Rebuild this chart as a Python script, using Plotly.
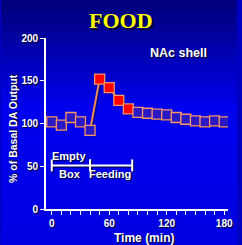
import plotly.graph_objects as go

# ---- data ----
time_min = [0, 10, 20, 30, 40, 50, 60, 70, 80, 90, 100, 110, 120, 130, 140, 150, 160, 170, 180]
da_output = [102, 98, 107, 102, 92, 152, 142, 127, 117, 113, 112, 111, 110, 107, 105, 103, 102, 103, 102]
feeding_flag = [0, 0, 0, 0, 0, 1, 1, 1, 1, 0, 0, 0, 0, 0, 0, 0, 0, 0, 0]

phase_names = ["Empty", "Feeding"]
phase_start = [0, 40]
phase_end = [40, 84]
phase_level = 51

x_tickvals = list(range(0, 181, 10))
x_ticktext = [str(v) if v % 60 == 0 else "" for v in x_tickvals]
y_tickvals = [0, 50, 100, 150, 200]

W, H = 242, 245
ML, MR, MT, MB = 46, 9, 38, 36

fig = go.Figure()

# marker / line shadow
fig.add_trace(go.Scatter(
    x=[t + 1.4 for t in time_min], y=[v - 1.8 for v in da_output],
    mode="lines+markers",
    line=dict(color="rgba(0,0,40,0.55)", width=2),
    marker=dict(symbol="square", size=9, color="rgba(0,0,40,0.55)", line=dict(width=0)),
    hoverinfo="skip", showlegend=False))

fig.add_trace(go.Scatter(
    x=time_min, y=da_output, mode="lines+markers",
    line=dict(color="#f08a5d", width=2),
    marker=dict(symbol="square", size=10,
                color=["#ff0000" if f else "#2a18c4" for f in feeding_flag],
                line=dict(color="#f79468", width=1.3)),
    showlegend=False))

shapes = []
# gradient background
n = 40
def grad(t):
    # t=0 top, t=1 bottom
    if t < 0.45:
        b = 120 + (240 - 120) * (t / 0.45)
    else:
        b = 240 - 15 * ((t - 0.45) / 0.55)
    return f"rgb(0,0,{int(b)})"
px_w = W - ML - MR
px_h = H - MT - MB
for i in range(n):
    y_top = i * H / n
    y_bot = (i + 1) * H / n + 0.5
    shapes.append(dict(type="rect", xref="paper", yref="paper", layer="below",
                       x0=-ML / px_w, x1=1 + MR / px_w,
                       y0=1 - (y_bot - MT) / px_h, y1=1 - (y_top - MT) / px_h,
                       fillcolor=grad((i + 0.5) / n), line=dict(width=0)))

# phase bars
annotations = []
for s, e in zip(phase_start, phase_end):
    for dx, dy, col in [(1.2, -1.5, "rgba(0,0,30,0.7)"), (0, 0, "white")]:
        shapes.append(dict(type="line", xref="x", yref="y", x0=s + dx, x1=e + dx,
                           y0=phase_level + dy, y1=phase_level + dy, line=dict(color=col, width=2)))
        for xe in (s, e):
            shapes.append(dict(type="line", xref="x", yref="y", x0=xe + dx, x1=xe + dx,
                               y0=phase_level - 7 + dy, y1=phase_level + 7 + dy,
                               line=dict(color=col, width=2)))

lab_font = dict(family="Arial, Liberation Sans", size=11, color="white",
                weight="bold", shadow="1px 1px 1px #000020")
annotations.append(dict(x=19, y=62, xref="x", yref="y", text="Empty",
                        showarrow=False, font=lab_font, xanchor="center", yanchor="middle"))
annotations.append(dict(x=19, y=41, xref="x", yref="y", text="Box",
                        showarrow=False, font=lab_font, xanchor="center", yanchor="middle"))
annotations.append(dict(x=61, y=41, xref="x", yref="y", text="Feeding",
                        showarrow=False, font=lab_font, xanchor="center", yanchor="middle"))

pix_annots = []
pix_annots.append(dict(x=123, y=20, text="FOOD", showarrow=False,
                       font=dict(family="Liberation Serif, Times New Roman", size=22,
                                 color="#ffff00", weight="bold", shadow="2px 2px 1px #000030")))
pix_annots.append(dict(x=182, y=53, text="NAc shell", showarrow=False,
                       font=dict(family="Arial, Liberation Sans", size=12.5, color="white",
                                 weight="bold", shadow="1px 1px 1px #000020")))
pix_annots.append(dict(x=147, y=238, text="Time (min)", showarrow=False,
                       font=dict(family="Arial, Liberation Sans", size=12, color="white",
                                 weight="bold", shadow="1px 1px 1px #000020")))
pix_annots.append(dict(x=12, y=128, text="% of Basal DA Output", showarrow=False, textangle=-90,
                       font=dict(family="Arial, Liberation Sans", size=10.5, color="white",
                                 weight="bold", shadow="1px 1px 1px #000020")))

# convert pixel-positioned annotations to paper coords
for a in pix_annots:
    a["xref"] = "paper"
    a["yref"] = "paper"
    a["x"] = (a["x"] - ML) / px_w
    a["y"] = 1 - (a["y"] - MT) / px_h
    a["xanchor"] = "center"
    a["yanchor"] = "middle"
annotations += pix_annots

tick_font = dict(family="Arial, Liberation Sans", size=10, color="white",
                 weight="bold", shadow="1px 1px 1px #000020")

fig.update_layout(
    width=W, height=H,
    margin=dict(l=ML, r=MR, t=MT, b=MB),
    paper_bgcolor="#0000c0", plot_bgcolor="rgba(0,0,0,0)",
    shapes=shapes, annotations=annotations,
    xaxis=dict(range=[-6, 184], tickvals=x_tickvals, ticktext=x_ticktext,
               ticks="outside", ticklen=4, tickwidth=1.2, tickcolor="white",
               showline=True, linecolor="white", linewidth=1.8,
               showgrid=False, zeroline=False, tickfont=tick_font, fixedrange=True),
    yaxis=dict(range=[0, 200], tickvals=y_tickvals,
               ticks="outside", ticklen=4, tickwidth=1.2, tickcolor="white",
               showline=True, linecolor="white", linewidth=1.8,
               showgrid=False, zeroline=False, tickfont=tick_font, fixedrange=True),
)

fig.write_html("out.html", config={"displayModeBar": False},
               post_script="document.body.style.margin='0';document.body.style.overflow='hidden';")
